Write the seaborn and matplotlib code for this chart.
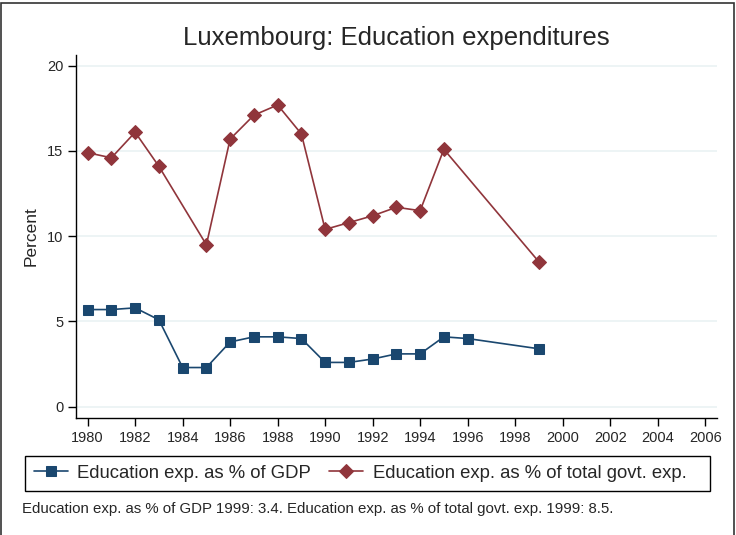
import numpy as np
import pandas as pd
import matplotlib.pyplot as plt
from matplotlib.patches import Rectangle
import seaborn as sns

years = [1980, 1981, 1982, 1983, 1984, 1985, 1986, 1987, 1988, 1989,
         1990, 1991, 1992, 1993, 1994, 1995, 1996, 1999]
gdp = [5.7, 5.7, 5.8, 5.1, 2.3, 2.3, 3.8, 4.1, 4.1, 4.0,
       2.6, 2.6, 2.8, 3.1, 3.1, 4.1, 4.0, 3.4]
govt_years = [1980, 1981, 1982, 1983, 1985, 1986, 1987, 1988, 1989,
              1990, 1991, 1992, 1993, 1994, 1995, 1999]
govt = [14.9, 14.6, 16.1, 14.1, 9.5, 15.7, 17.1, 17.7, 16.0,
        10.4, 10.8, 11.2, 11.7, 11.5, 15.1, 8.5]

lab_gdp = "Education exp. as % of GDP"
lab_govt = "Education exp. as % of total govt. exp."
navy = "#1a476f"
maroon = "#90353b"

sns.set_style("white")
plt.rcParams['font.family'] = ['Liberation Sans', 'DejaVu Sans']

fig = plt.figure(figsize=(7.36, 5.35), dpi=100)
ax = fig.add_axes([76 / 736, 1 - 418 / 535, (717 - 76) / 736, (418 - 55) / 535])

df_gdp = pd.DataFrame({"year": years, "value": gdp})
df_govt = pd.DataFrame({"year": govt_years, "value": govt})

sns.lineplot(data=df_gdp, x="year", y="value", ax=ax, color=navy, marker="s",
             markersize=6.5, markeredgecolor=navy, linewidth=1.2, label=lab_gdp)
sns.lineplot(data=df_govt, x="year", y="value", ax=ax, color=maroon, marker="D",
             markersize=7, markeredgecolor=maroon, linewidth=1.2, label=lab_govt)

ax.set_xlim(1979.51, 2006.5)
ax.set_ylim(-0.66, 20.63)
ax.set_xticks(range(1980, 2007, 2))
ax.set_yticks([0, 5, 10, 15, 20])
ax.yaxis.grid(True, color="#eaf2f3", linewidth=1.2)
ax.xaxis.grid(False)
for s in ["top", "right"]:
    ax.spines[s].set_visible(False)
for s in ["left", "bottom"]:
    ax.spines[s].set_color("black")
    ax.spines[s].set_linewidth(1.0)
ax.tick_params(axis="both", which="both", direction="out", length=6, width=1,
               color="black", labelsize=10.5, pad=3, bottom=True, left=True)
ax.set_xlabel("")
ax.set_ylabel("Percent", fontsize=12.5, labelpad=6)
ax.get_legend().remove()

fig.text(396 / 736, 1 - 38 / 535, "Luxembourg: Education expenditures",
         ha="center", va="center", fontsize=18.5)

handles, labels = ax.get_legend_handles_labels()
fig.patches.append(Rectangle((25 / 736, 1 - 491 / 535), 685 / 736, 35 / 535,
                             transform=fig.transFigure, fill=False,
                             edgecolor="black", linewidth=1.0))
leg = fig.legend(handles, labels, loc="center", ncol=2,
                 bbox_to_anchor=(360 / 736, 1 - 473 / 535),
                 fontsize=13.3, frameon=False, handlelength=1.85,
                 columnspacing=1.0, handletextpad=0.5, borderpad=0.2,
                 borderaxespad=0)

fig.text(22 / 736, 1 - 509 / 535,
         "Education exp. as % of GDP 1999: 3.4. Education exp. as % of total govt. exp. 1999: 8.5.",
         ha="left", va="center", fontsize=10.8)

fig.patches.append(Rectangle((1 / 736, -0.1), 733 / 736, 1.1 - 3 / 535,
                             transform=fig.transFigure, fill=False,
                             edgecolor="#333333", linewidth=1.2))

fig.savefig("out.png", dpi=100)
